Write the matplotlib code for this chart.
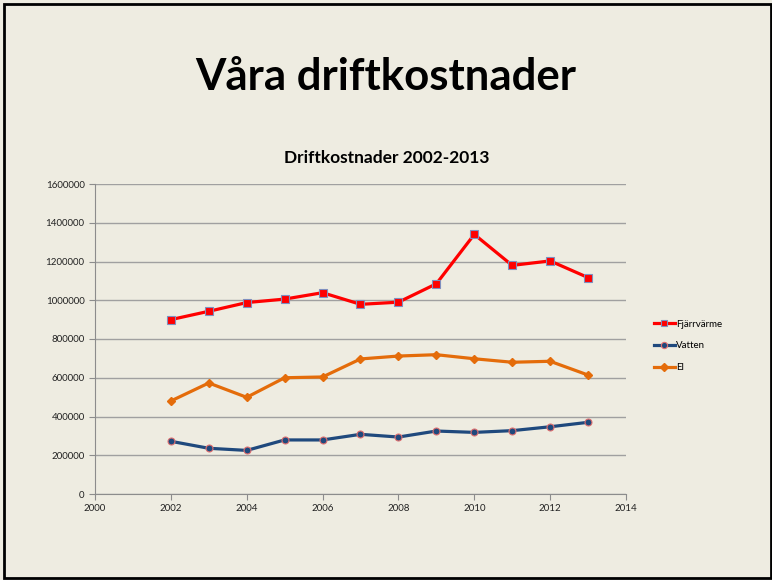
import matplotlib
matplotlib.use("Agg")
import matplotlib.pyplot as plt
from matplotlib.patches import Rectangle
from matplotlib.ticker import FuncFormatter

# values (kr per year)
years = [2002, 2003, 2004, 2005, 2006, 2007, 2008, 2009, 2010, 2011, 2012, 2013]
fjarrvarme = [900000, 943000, 988000, 1006000, 1039000, 979000, 990000, 1085000, 1340000, 1180000, 1203000, 1117000]
vatten = [272000, 236000, 225000, 279000, 279000, 308000, 294000, 325000, 318000, 327000, 347000, 370000]
el = [480000, 573000, 499000, 600000, 604000, 697000, 712000, 719000, 698000, 680000, 685000, 614000]
series_names = ["Fjärrvärme", "Vatten", "El"]

bg = "#EEECE1"
plt.rcParams["font.family"] = ["Lato", "DejaVu Sans"]

fig = plt.figure(figsize=(7.72, 5.8), dpi=100, facecolor=bg)

# slide frame
fig.patches.append(Rectangle((4 / 772, 2 / 580), 767 / 772, 574 / 580, transform=fig.transFigure,
                             fill=False, edgecolor="black", linewidth=2))

fig.text(0.5, 0.868, "Våra driftkostnader", ha="center", va="center",
         fontsize=31.5, fontweight="bold", color="black")

ax = fig.add_axes([95 / 772, 1 - 494 / 580, (626 - 95) / 772, (494 - 184) / 580])
ax.set_facecolor(bg)

ax.plot(years, fjarrvarme, color="#FF0000", linewidth=2.3, marker="s", markersize=5.5,
        markerfacecolor="#FF0000", markeredgecolor="#7F8FBF", markeredgewidth=0.8, label=series_names[0])
ax.plot(years, vatten, color="#1F497D", linewidth=2.3, marker="o", markersize=5,
        markerfacecolor="#1F497D", markeredgecolor="#E07070", markeredgewidth=0.8, label=series_names[1])
ax.plot(years, el, color="#E46C0A", linewidth=2.3, marker="D", markersize=4.5,
        markerfacecolor="#E46C0A", markeredgecolor="#E46C0A", label=series_names[2])

ax.set_xlim(2000, 2014)
ax.set_ylim(0, 1600000)
ax.set_xticks(range(2000, 2015, 2))
ax.set_yticks(range(0, 1600001, 200000))
ax.yaxis.set_major_formatter(FuncFormatter(lambda v, p: "%d" % v))
ax.tick_params(labelsize=7, colors="#222222", length=4, direction="out")
ax.tick_params(axis="both", color="#8C8C8C")
ax.grid(axis="y", color="#A0A0A0", linewidth=1)
ax.set_axisbelow(True)
for s in ["top", "right"]:
    ax.spines[s].set_visible(False)
for s in ["left", "bottom"]:
    ax.spines[s].set_color("#8C8C8C")

# chart title is centred over the whole chart area, legend included
fig.text(387 / 772, 1 - 158 / 580, "Driftkostnader 2002-2013", ha="center", va="center",
         fontsize=12.5, fontweight="bold")

h, l = ax.get_legend_handles_labels()
fig.legend(h, l, loc="center left", bbox_to_anchor=(645 / 772, 1 - 346 / 580), frameon=False,
           fontsize=7, handlelength=2.2, handletextpad=0.1, labelspacing=1.3, markerscale=0.9)

fig.savefig("out.png", dpi=100, facecolor=bg)
